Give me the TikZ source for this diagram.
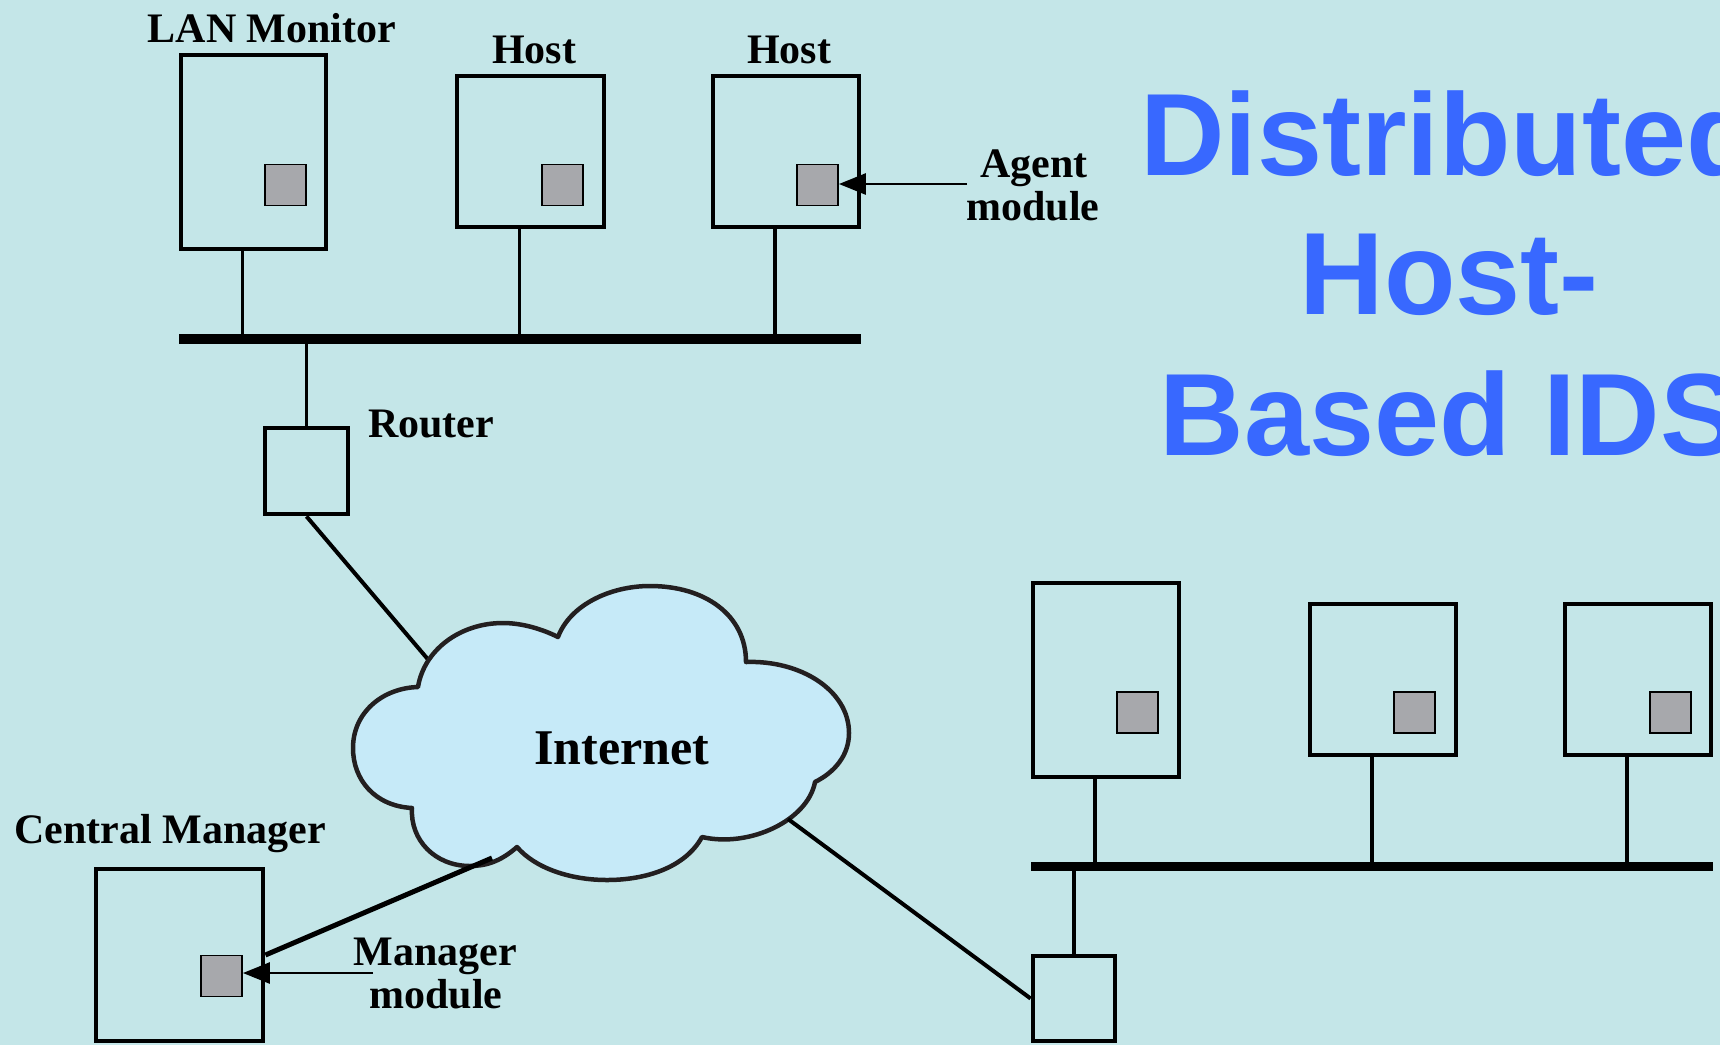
\documentclass[tikz,border=0pt]{standalone}
\usepackage{fontspec}
\setmainfont{Liberation Serif}
\newfontfamily\titlefont{Liberation Sans}
\usetikzlibrary{arrows.meta}

\definecolor{bgteal}{RGB}{196,230,232}
\definecolor{cloudfill}{RGB}{198,234,248}
\definecolor{cloudline}{RGB}{35,31,32}
\definecolor{modgray}{RGB}{167,168,172}
\definecolor{titleblue}{RGB}{56,104,255}

\begin{document}
\begin{tikzpicture}[x=1pt,y=-1pt,
  box/.style={draw=black, line width=4.8pt, inner sep=0pt, rectangle},
  module/.style={draw=black, line width=1.8pt, fill=modgray, inner sep=0pt,
    minimum width=41pt, minimum height=41pt},
  lbl/.style={font=\fontsize{42}{43}\selectfont\bfseries, inner sep=0pt, anchor=base},
  titletext/.style={font=\titlefont\bfseries\fontsize{117}{140}\selectfont,
    text=titleblue, inner sep=0pt, anchor=base},
  bus/.style={line width=9.5pt},
  drop/.style={line width=3.6pt},
  link/.style={line width=4pt},
  pointer/.style={line width=2.8pt, -{Triangle[length=27pt,width=21pt]}},
]
\useasboundingbox (0,0) rectangle (1720,1045);
\clip (0,0) rectangle (1720,1045);
\fill[bgteal] (0,0) rectangle (1720,1045);

% ---- upper LAN ----
\node[box, minimum width=145pt, minimum height=194pt] (lanmon) at (253.5,152) {};
\node[box, minimum width=147pt, minimum height=151pt] (host1) at (530.5,151.5) {};
\node[box, minimum width=146pt, minimum height=151pt] (host2) at (786,151.5) {};
\node[module] (mod0) at (285.5,185) {};
\node[module] (mod1) at (562.5,185) {};
\node[module] (mod2) at (817.5,185) {};

\coordinate (busAw) at (179,339);
\coordinate (busAe) at (861,339);
\coordinate (d0) at ([xshift=-11pt]lanmon.south);
\coordinate (d1) at ([xshift=-11pt]host1.south);
\coordinate (d2) at ([xshift=-11pt]host2.south);
\draw[drop] (d0) -- (d0 |- busAw);
\draw[drop] (d1) -- (d1 |- busAw);
\draw[drop] (d2) -- (d2 |- busAw);

\node[box, minimum width=83pt, minimum height=86pt] (rtr1) at (306.5,471) {};
\draw[drop] (rtr1.north) -- (rtr1.north |- busAw);
\draw[bus] (busAw) -- (busAe);

\node[lbl] (lanlbl) at (272,42) {LAN Monitor};
\node[lbl] (host1lbl) at (534,63) {Host};
\node[lbl] (host2lbl) at (789,63) {Host};
\node[lbl, anchor=base west] (rtr1lbl) at (368,437) {Router};
\node[lbl] (agentlbl1) at (1034,177) {Agent};
\node[lbl] (agentlbl2) at (1033,220) {module};

\coordinate (agentfree) at (967,184);
\draw[pointer] (agentfree) -- (agentfree -| mod2.east);

% ---- lower LAN ----
\node[box, minimum width=146pt, minimum height=194pt] (hostA) at (1106,680) {};
\node[box, minimum width=146pt, minimum height=151pt] (hostB) at (1383,679.5) {};
\node[box, minimum width=146pt, minimum height=151pt] (hostC) at (1638,679.5) {};
\node[module] (modA) at (1137.5,712.5) {};
\node[module] (modB) at (1414.5,712.5) {};
\node[module] (modC) at (1670.5,712.5) {};

\coordinate (busBw) at (1031,866.5);
\coordinate (busBe) at (1713,866.5);
\coordinate (dA) at ([xshift=-11pt]hostA.south);
\coordinate (dB) at ([xshift=-11pt]hostB.south);
\coordinate (dC) at ([xshift=-11pt]hostC.south);
\draw[drop] (dA) -- (dA |- busBw);
\draw[drop] (dB) -- (dB |- busBw);
\draw[drop] (dC) -- (dC |- busBw);

\node[box, minimum width=82pt, minimum height=85pt] (rtr2) at (1074,998.5) {};
\draw[drop] (rtr2.north) -- (rtr2.north |- busBw);
\draw[bus] (busBw) -- (busBe);

% ---- central manager ----
\node[box, minimum width=167pt, minimum height=172pt] (cm) at (179.5,955) {};
\node[module] (mgrmod) at (221.5,976) {};
\node[lbl] (cmlbl) at (170,843) {Central Manager};
\node[lbl] (mgrlbl1) at (435,965) {Manager};
\node[lbl] (mgrlbl2) at (436,1008) {module};
\coordinate (mgrfree) at (373,973);
\draw[pointer] (mgrfree) -- (mgrfree -| mgrmod.east);

% ---- internet cloud ----
\coordinate (cloudNW) at (437,670);
\coordinate (cloudSW) at (492,858);
\coordinate (cloudSE) at (788,819);
\draw[link] (rtr1.south) -- (cloudNW);

\draw[cloudline, fill=cloudfill, line width=4.5pt, line join=round]
  (418,687) .. controls (424,650) and (460,623) .. (503,623)
            .. controls (522,623) and (542,629) .. (558,637)
            .. controls (570,605) and (610,586) .. (650,586)
            .. controls (705,586) and (746,615) .. (746,662)
            .. controls (800,660) and (849,690) .. (849,733)
            .. controls (849,755) and (835,772) .. (815,782)
            .. controls (808,820) and (750,848) .. (702,837)
            .. controls (685,868) and (645,880) .. (607,880)
            .. controls (570,880) and (535,868) .. (517,847)
            .. controls (500,862) and (485,866) .. (470,866)
            .. controls (435,866) and (410,840) .. (412,808)
            .. controls (375,806) and (353,780) .. (353,748)
            .. controls (353,712) and (383,688) .. (418,687) -- cycle;
\node[lbl, font=\fontsize{50}{55}\selectfont\bfseries] (inetlbl) at (622,764) {Internet};

\draw[line width=5pt] (cm.east) -- (cloudSW);
\draw[link] (cloudSE) -- (rtr2.west);

% ---- title ----
\node[titletext] (title1) at (1449,175) {Distributed};
\node[titletext] (title2) at (1449,314) {Host-};
\node[titletext] (title3) at (1449,455) {Based IDS};
\end{tikzpicture}
\end{document}
